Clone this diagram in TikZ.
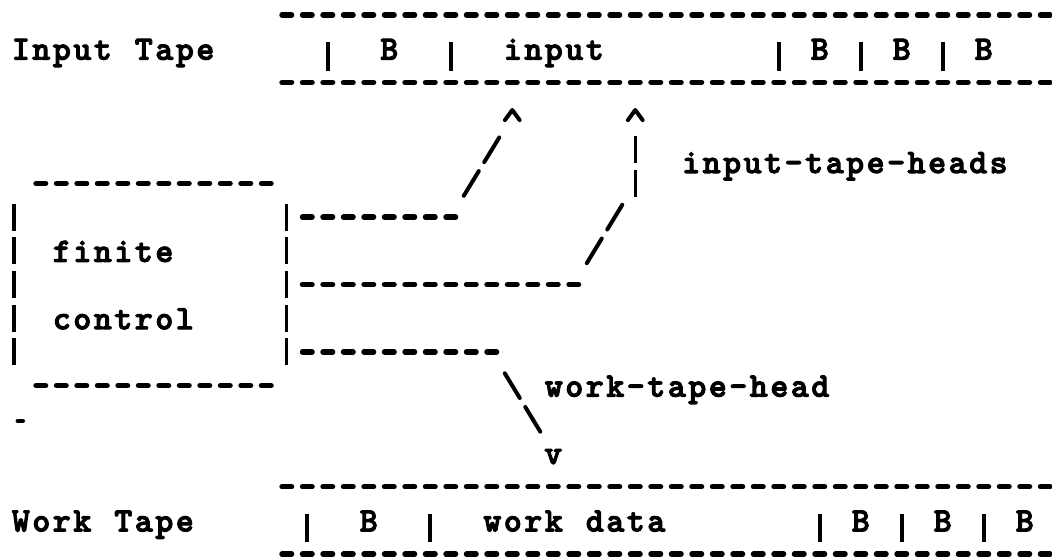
\documentclass[tikz,border=0pt]{standalone}
\usepackage{tikz}

% typewriter face, one cell per character
\font\typer="[lmmonolt10-bold]:embolden=3" at 12pt
\makeatletter
\def\typed@end{\typed@end}
\newcommand\typed[1]{\typed@loop#1\typed@end}
\def\typed@loop#1{\ifx#1\typed@end\else\makebox[7.2pt]{#1}\expandafter\typed@loop\fi}
\makeatother

\tikzset{
  typed/.style={font=\typer, inner sep=0pt, anchor=base west},
  hyph/.style={line width=1.9pt, line cap=round, dash pattern=on 3.37pt off 3.83pt,
    shorten <=-1.68pt, shorten >=-1.68pt},
  slash/.style={line width=1.4pt, line cap=round, dash pattern=on 10.15pt off 3.7pt,
    shorten <=8.78pt, shorten >=8.78pt},
  bar/.style={line width=1.2pt, dash pattern=on 9.5pt off 2.335pt,
    shorten <=-4.75pt, shorten >=-4.75pt},
  sep/.style={line width=1.3pt},
  caret/.style={line width=1.4pt, line cap=round, line join=round}
}

\begin{document}
\begin{tikzpicture}[x=7.2pt, y=11.835pt]
    \useasboundingbox (-0.99,0.445) rectangle (50.33,-16.08);

    % Input tape
    \node[typed] (inLabel) at (-0.5,-1.326) {\typed{Input~Tape}};
    \draw[hyph] (13,0) -- (50,0);
    \draw[hyph] (13,-2) -- (50,-2);
    \foreach \c in {15,21,37,41,45}
        \draw[sep] (\c,-0.8) -- (\c,-1.65);
    \foreach \c in {18,39,43,47}
        \node[typed, anchor=base] (inB\c) at (\c,-1.326) {B};
    \node[typed] (inData) at (23.5,-1.326) {\typed{input}};

    % Work tape
    \node[typed] (wkLabel) at (-0.5,-15.326) {\typed{Work~Tape}};
    \draw[hyph] (13,-14) -- (50,-14);
    \draw[hyph] (13,-16) -- (50,-16);
    \foreach \c in {14,20,39,43,47}
        \draw[sep] (\c,-14.8) -- (\c,-15.65);
    \foreach \c in {17,41,45,49}
        \node[typed, anchor=base] (wkB\c) at (\c,-15.326) {B};
    \node[typed] (wkData) at (22.5,-15.326) {\typed{work~data}};

    % Finite control
    \draw[hyph] (1,-5) -- (12,-5);
    \draw[hyph] (1,-11) -- (12,-11);
    \draw[bar] (-0.3,-6) -- (-0.3,-10);
    \draw[bar] (13,-6) -- (13,-10);
    \node[typed] (fin) at (1.5,-7.326) {\typed{finite}};
    \node[typed] (ctl) at (1.5,-9.326) {\typed{control}};
    \draw[line width=1.6pt, line cap=round] (-0.12,-12.05) -- (0.12,-12.05);

    % Heads
    \coordinate (portA) at (14,-6);
    \coordinate (kneeA) at (21,-6);
    \coordinate (tipA) at (24,-3);
    \coordinate (portB) at (14,-8);
    \coordinate (kneeB) at (27,-8);
    \coordinate (riseB) at (30,-5);
    \coordinate (tipB) at (30,-3);
    \coordinate (portW) at (14,-10);
    \coordinate (kneeW) at (23,-10);
    \coordinate (tipW) at (26,-13);

    \draw[caret] (tipA) ++(-0.36,-0.12) -- ++(0.36,0.3) -- ++(0.36,-0.3);
    \draw[caret] (tipB) ++(-0.36,-0.12) -- ++(0.36,0.3) -- ++(0.36,-0.3);
    \node[typed, anchor=base, yshift=-3.86pt] (headW) at (tipW) {v};

    \draw[hyph] (portA) -- (kneeA);
    \draw[slash] (kneeA) -- (tipA);
    \draw[hyph] (portB) -- (kneeB);
    \draw[slash] (kneeB) -- (riseB);
    \draw[bar] (riseB) -- ++(0,1);
    \draw[hyph] (portW) -- (kneeW);
    \draw[slash] (kneeW) -- (tipW);

    \node[typed] (inHeads) at (32.2,-4.69) {\typed{input-tape-heads}};
    \node[typed] (wkHead) at (25.5,-11.326) {\typed{work-tape-head}};
\end{tikzpicture}
\end{document}
